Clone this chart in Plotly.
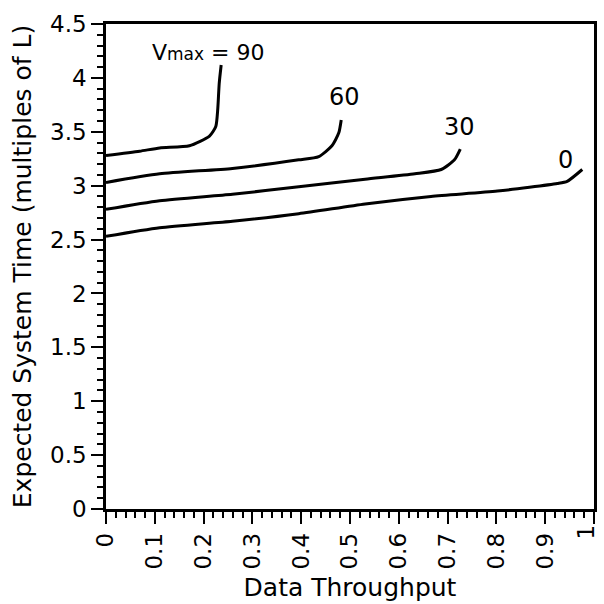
import plotly.graph_objects as go

# Data
x_90 = [0.0, 0.069, 0.11, 0.171, 0.212, 0.225, 0.229, 0.232, 0.236]
y_90 = [3.28, 3.32, 3.35, 3.37, 3.46, 3.55, 3.71, 3.95, 4.12]

x_60 = [0.0, 0.11, 0.259, 0.395, 0.436, 0.463, 0.477, 0.482]
y_60 = [3.03, 3.11, 3.16, 3.24, 3.27, 3.37, 3.49, 3.61]

x_30 = [0.0, 0.11, 0.259, 0.395, 0.531, 0.633, 0.687, 0.714, 0.726]
y_30 = [2.78, 2.86, 2.92, 2.99, 3.06, 3.11, 3.15, 3.24, 3.34]

x_0 = [0.0, 0.11, 0.259, 0.395, 0.531, 0.666, 0.802, 0.925, 0.945, 0.976]
y_0 = [2.53, 2.61, 2.67, 2.74, 2.83, 2.90, 2.95, 3.02, 3.04, 3.15]

label_text = ["V<span style='font-size:17px'>max</span> = 90", "60", "30", "0"]
label_x = [0.21, 0.489, 0.725, 0.941]
label_y = [4.24, 3.82, 3.54, 3.24]
label_size = [22, 24, 24, 24]

x_ticks = [0, 0.1, 0.2, 0.3, 0.4, 0.5, 0.6, 0.7, 0.8, 0.9, 1]
x_tick_text = ["0", "0.1", "0.2", "0.3", "0.4", "0.5", "0.6", "0.7", "0.8", "0.9", "1"]
y_ticks = [0, 0.5, 1, 1.5, 2, 2.5, 3, 3.5, 4, 4.5]
y_tick_text = ["0", "0.5", "1", "1.5", "2", "2.5", "3", "3.5", "4", "4.5"]

FONT = "DejaVu Sans, Liberation Sans, Arial, sans-serif"

fig = go.Figure()
for xs, ys in [(x_90, y_90), (x_60, y_60), (x_30, y_30), (x_0, y_0)]:
    fig.add_trace(go.Scatter(x=xs, y=ys, mode="lines",
                             line=dict(color="black", width=3, shape="spline", smoothing=0.6),
                             showlegend=False, hoverinfo="skip"))

for t, lx, ly, fs in zip(label_text, label_x, label_y, label_size):
    fig.add_annotation(x=lx, y=ly, text=t, showarrow=False,
                       font=dict(family=FONT, size=fs, color="black"),
                       xanchor="center", yanchor="middle")

# the last x tick label sits at the right page edge, where plotly drops it; draw it as text
fig.add_annotation(x=x_ticks[-1], xref="x", y=0, yref="paper", yshift=-15, xshift=5,
                   text=x_tick_text[-1], textangle=-90, showarrow=False,
                   font=dict(family=FONT, size=23, color="black"),
                   xanchor="right", yanchor="top", borderpad=0)

fig.update_layout(
    width=604, height=604,
    margin=dict(l=106, r=7, t=24, b=93),
    paper_bgcolor="white", plot_bgcolor="white",
    font=dict(family=FONT, color="black"),
)
fig.update_xaxes(
    range=[0, 1], tickmode="array", tickvals=x_ticks, ticktext=x_tick_text[:-1] + [""],
    tickangle=-90, tickfont=dict(size=23, family=FONT), ticklabeloverflow="allow",
    ticks="outside", ticklen=12, tickwidth=2, tickcolor="black",
    minor=dict(dtick=0.02, ticks="outside", ticklen=6, tickwidth=2, tickcolor="black"),
    showline=True, linecolor="black", linewidth=2.5, mirror=True,
    showgrid=False, zeroline=False,
    title=dict(text="Data Throughput", font=dict(size=25, family=FONT), standoff=10),
)
fig.update_yaxes(
    range=[0, 4.5], tickmode="array", tickvals=y_ticks, ticktext=y_tick_text,
    tickfont=dict(size=23, family=FONT), ticklabeloverflow="allow",
    ticks="outside", ticklen=12, tickwidth=2, tickcolor="black",
    minor=dict(dtick=0.1, ticks="outside", ticklen=6, tickwidth=2, tickcolor="black"),
    showline=True, linecolor="black", linewidth=2.5, mirror=True,
    showgrid=False, zeroline=False,
    title=dict(text="Expected System Time (multiples of L)", font=dict(size=25, family=FONT), standoff=12),
)

fig.write_html("out.html")
